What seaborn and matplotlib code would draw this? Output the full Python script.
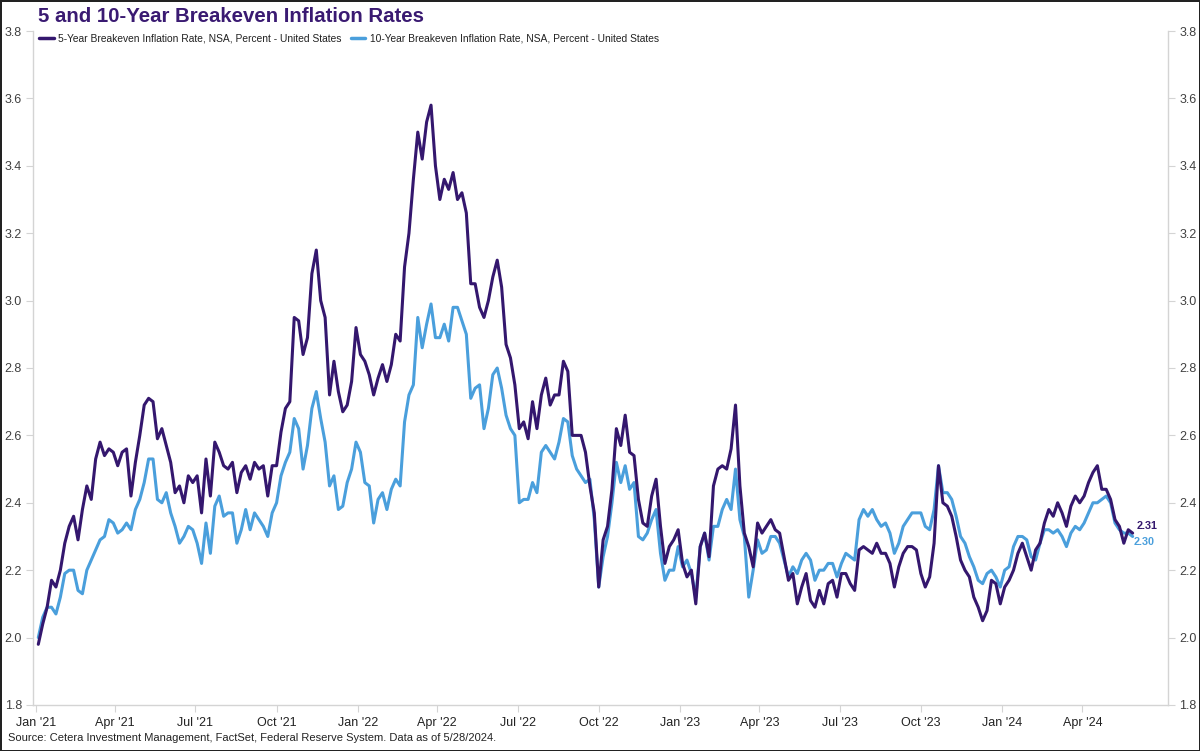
import numpy as np
import pandas as pd
import matplotlib
matplotlib.use("Agg")
import matplotlib.pyplot as plt
import matplotlib.dates as mdates
from matplotlib.lines import Line2D
import seaborn as sns

# ---------------- data (every 5 days) ----------------
dates = pd.date_range("2021-01-04", "2024-05-28", freq="5D")

five_year = [
    1.98, 2.04, 2.09, 2.17, 2.15, 2.20, 2.28, 2.33, 2.36, 2.29,
    2.38, 2.45, 2.41, 2.53, 2.58, 2.54, 2.56, 2.55, 2.51, 2.55,
    2.56, 2.42, 2.52, 2.60, 2.69, 2.71, 2.70, 2.59, 2.62, 2.57,
    2.52, 2.43, 2.45, 2.40, 2.48, 2.46, 2.48, 2.37, 2.53, 2.42,
    2.58, 2.55, 2.51, 2.50, 2.52, 2.43, 2.49, 2.51, 2.47, 2.52,
    2.50, 2.51, 2.42, 2.51, 2.51, 2.61, 2.68, 2.70, 2.95, 2.94,
    2.84, 2.89, 3.08, 3.15, 3.00, 2.95, 2.72, 2.82, 2.73, 2.67,
    2.69, 2.76, 2.92, 2.84, 2.82, 2.78, 2.72, 2.77, 2.81, 2.76,
    2.81, 2.90, 2.88, 3.10, 3.20, 3.36, 3.50, 3.42, 3.53, 3.58,
    3.40, 3.30, 3.36, 3.33, 3.38, 3.30, 3.32, 3.26, 3.05, 3.05,
    2.98, 2.95, 3.00, 3.07, 3.12, 3.04, 2.87, 2.83, 2.75, 2.62,
    2.64, 2.59, 2.70, 2.62, 2.72, 2.77, 2.69, 2.72, 2.72, 2.82,
    2.79, 2.60, 2.60, 2.60, 2.55, 2.45, 2.37, 2.15, 2.29, 2.33,
    2.44, 2.62, 2.57, 2.66, 2.55, 2.54, 2.41, 2.34, 2.33, 2.42,
    2.47, 2.33, 2.22, 2.27, 2.29, 2.32, 2.22, 2.18, 2.20, 2.10,
    2.27, 2.31, 2.24, 2.45, 2.50, 2.51, 2.50, 2.56, 2.69, 2.45,
    2.31, 2.27, 2.21, 2.34, 2.31, 2.33, 2.35, 2.32, 2.31, 2.24,
    2.17, 2.19, 2.10, 2.15, 2.19, 2.11, 2.09, 2.14, 2.10, 2.16,
    2.17, 2.12, 2.19, 2.19, 2.16, 2.14, 2.26, 2.27, 2.26, 2.25,
    2.28, 2.25, 2.25, 2.22, 2.15, 2.21, 2.25, 2.27, 2.27, 2.26,
    2.19, 2.15, 2.18, 2.28, 2.51, 2.40, 2.39, 2.36, 2.30, 2.23,
    2.20, 2.18, 2.12, 2.09, 2.05, 2.08, 2.17, 2.16, 2.10, 2.15,
    2.17, 2.20, 2.25, 2.28, 2.24, 2.20, 2.26, 2.28, 2.34, 2.38,
    2.36, 2.40, 2.37, 2.33, 2.39, 2.42, 2.40, 2.42, 2.46, 2.49,
    2.51, 2.44, 2.44, 2.41, 2.35, 2.33, 2.28, 2.32, 2.31,
]

ten_year = [
    2.00, 2.06, 2.09, 2.09, 2.07, 2.12, 2.19, 2.20, 2.20, 2.14,
    2.13, 2.20, 2.23, 2.26, 2.29, 2.30, 2.35, 2.34, 2.31, 2.32,
    2.34, 2.32, 2.38, 2.41, 2.46, 2.53, 2.53, 2.41, 2.40, 2.43,
    2.37, 2.33, 2.28, 2.30, 2.33, 2.32, 2.28, 2.22, 2.34, 2.25,
    2.39, 2.42, 2.36, 2.37, 2.37, 2.28, 2.32, 2.38, 2.32, 2.37,
    2.35, 2.33, 2.30, 2.37, 2.40, 2.48, 2.52, 2.55, 2.65, 2.62,
    2.50, 2.57, 2.68, 2.73, 2.65, 2.58, 2.45, 2.48, 2.38, 2.39,
    2.46, 2.50, 2.58, 2.55, 2.46, 2.45, 2.34, 2.41, 2.43, 2.38,
    2.44, 2.47, 2.45, 2.64, 2.72, 2.75, 2.95, 2.86, 2.93, 2.99,
    2.89, 2.89, 2.93, 2.88, 2.98, 2.98, 2.94, 2.90, 2.71, 2.74,
    2.75, 2.62, 2.68, 2.78, 2.80, 2.74, 2.66, 2.62, 2.60, 2.40,
    2.41, 2.41, 2.46, 2.43, 2.55, 2.57, 2.55, 2.53, 2.58, 2.65,
    2.64, 2.54, 2.50, 2.48, 2.46, 2.47, 2.35, 2.15, 2.24, 2.30,
    2.40, 2.52, 2.46, 2.51, 2.44, 2.46, 2.30, 2.29, 2.31, 2.35,
    2.38, 2.25, 2.17, 2.20, 2.20, 2.27, 2.21, 2.23, 2.19, 2.12,
    2.27, 2.31, 2.23, 2.33, 2.33, 2.38, 2.41, 2.38, 2.50, 2.35,
    2.30, 2.12, 2.20, 2.29, 2.25, 2.26, 2.30, 2.30, 2.28, 2.23,
    2.18, 2.21, 2.19, 2.23, 2.25, 2.23, 2.17, 2.20, 2.20, 2.22,
    2.22, 2.18, 2.22, 2.25, 2.24, 2.23, 2.35, 2.38, 2.36, 2.38,
    2.35, 2.33, 2.34, 2.31, 2.25, 2.28, 2.33, 2.35, 2.37, 2.37,
    2.37, 2.33, 2.32, 2.38, 2.51, 2.43, 2.43, 2.41, 2.36, 2.30,
    2.28, 2.24, 2.21, 2.17, 2.16, 2.19, 2.20, 2.18, 2.15, 2.20,
    2.21, 2.27, 2.30, 2.30, 2.29, 2.24, 2.23, 2.28, 2.32, 2.32,
    2.31, 2.32, 2.30, 2.27, 2.31, 2.33, 2.32, 2.34, 2.37, 2.40,
    2.40, 2.41, 2.42, 2.40, 2.34, 2.32, 2.31, 2.31, 2.30,
]

series_names = [
    "5-Year Breakeven Inflation Rate, NSA, Percent - United States",
    "10-Year Breakeven Inflation Rate, NSA, Percent - United States",
]
title_text = "5 and 10-Year Breakeven Inflation Rates"
source_text = ("Source: Cetera Investment Management, FactSet, Federal Reserve System. "
               "Data as of 5/28/2024.")
y_ticks = [1.8, 2.0, 2.2, 2.4, 2.6, 2.8, 3.0, 3.2, 3.4, 3.6, 3.8]
x_tick_dates = ["2021-01-01", "2021-04-01", "2021-07-01", "2021-10-01",
                "2022-01-01", "2022-04-01", "2022-07-01", "2022-10-01",
                "2023-01-01", "2023-04-01", "2023-07-01", "2023-10-01",
                "2024-01-01", "2024-04-01"]

# ---------------- styling ----------------
c5 = "#34176e"
c10 = "#4a9fdc"
grey = "#d4d4d4"
txt = "#404040"

sns.set_theme(style="white")
plt.rcParams["font.family"] = ["Liberation Sans", "DejaVu Sans"]

df = pd.DataFrame({
    "date": list(dates) * 2,
    "value": five_year + ten_year,
    "series": [series_names[0]] * len(dates) + [series_names[1]] * len(dates),
})

fig = plt.figure(figsize=(12, 7.51), dpi=100)
ax = fig.add_axes([0.0275, 0.0613, 0.9458, 0.8974])

sns.lineplot(data=df, x="date", y="value", hue="series",
             palette={series_names[0]: c5, series_names[1]: c10},
             hue_order=series_names[::-1], linewidth=2.2, ax=ax,
             legend=False, estimator=None)

ax.set_xlim(pd.Timestamp("2020-12-29"), pd.Timestamp("2024-07-07"))
ax.set_ylim(1.8, 3.8)
ax.set_yticks(y_ticks)
ax.set_yticklabels([f"{v:.1f}" for v in y_ticks])
ax.set_xlabel("")
ax.set_ylabel("")

tick_ts = pd.to_datetime(x_tick_dates)
ax.set_xticks(tick_ts)
ax.set_xticklabels([t.strftime("%b '%y") for t in tick_ts])

for side in ["left", "right", "bottom"]:
    ax.spines[side].set_visible(True)
    ax.spines[side].set_color(grey)
    ax.spines[side].set_linewidth(1.0)
ax.spines["top"].set_visible(False)

ax.tick_params(axis="y", which="both", left=True, right=True,
               labelleft=True, labelright=True, length=5, width=0.8,
               color=grey, labelsize=9, labelcolor=txt, pad=3)
ax.tick_params(axis="x", bottom=True, length=5, width=0.8, color=grey,
               labelsize=9, labelcolor="#222222", pad=4)

# legend
handles = [Line2D([0], [0], color=c5, lw=2.5), Line2D([0], [0], color=c10, lw=2.5)]
leg = ax.legend(handles, series_names, loc="upper left", ncol=2, frameon=False,
                fontsize=7.4, handlelength=1.4, handletextpad=0.45,
                columnspacing=0.9, bbox_to_anchor=(0.0, 1.005), borderaxespad=0.2)
for t in leg.get_texts():
    t.set_color("#222222")

# end labels
ax.annotate(f"{five_year[-1]:.2f}", xy=(dates[-1], five_year[-1]), xytext=(3, 5),
            textcoords="offset points", color=c5, fontsize=7.8, fontweight="bold",
            va="center", ha="left")
ax.annotate(f"{ten_year[-1]:.2f}", xy=(dates[-1], ten_year[-1]), xytext=(1, -4),
            textcoords="offset points", color=c10, fontsize=7.8, fontweight="bold",
            va="center", ha="left")

fig.text(38 / 1200, 1 - 17 / 751, title_text, fontsize=14.7, fontweight="bold",
         color="#3a1a72", va="center", ha="left")
fig.text(8 / 1200, 1 - 738 / 751, source_text, fontsize=8, color="#222222",
         va="center", ha="left")

fig.patch.set_edgecolor("#222222")
fig.patch.set_linewidth(2)

fig.savefig("out.png", dpi=100, edgecolor=fig.get_edgecolor())
